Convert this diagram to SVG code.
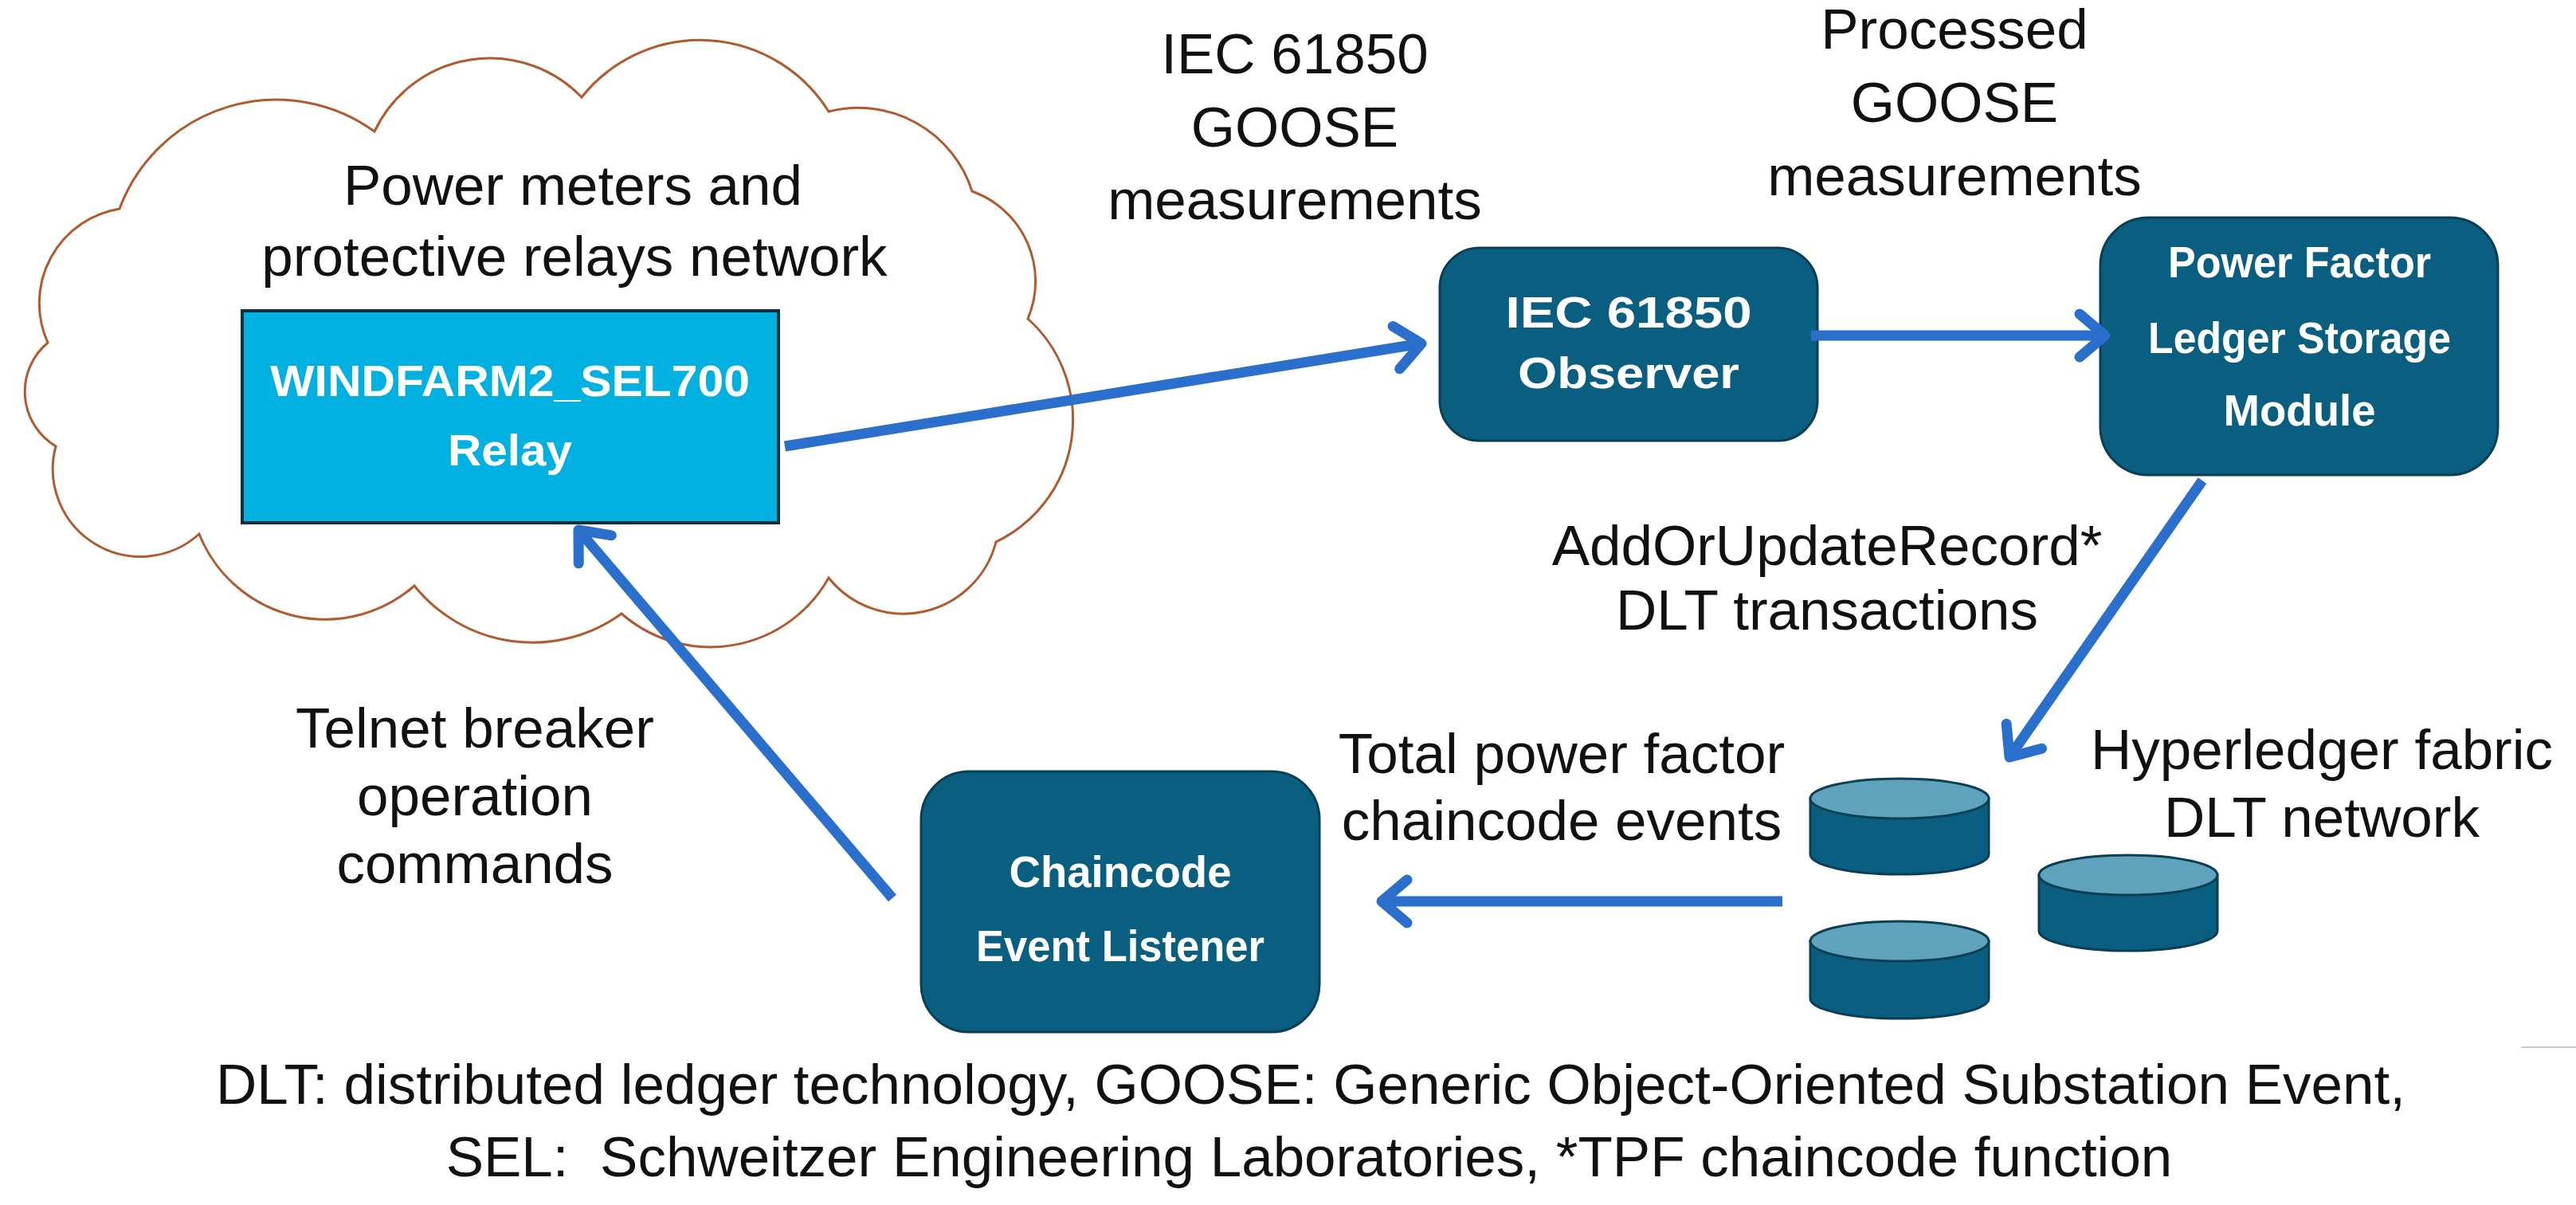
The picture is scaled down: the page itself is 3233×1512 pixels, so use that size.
<svg xmlns="http://www.w3.org/2000/svg" width="3233" height="1512" viewBox="0 0 3233 1512">
<style>
.lbl{font-family:"Liberation Sans",Arial,sans-serif;font-size:71px;fill:#111;text-anchor:middle}
.foot{font-family:"Liberation Sans",Arial,sans-serif;font-size:71px;fill:#111;text-anchor:middle}
.wt{font-family:"Liberation Sans",Arial,sans-serif;font-weight:bold;fill:#fff;text-anchor:middle;font-size:56px}
.box{fill:#0a5f80;stroke:#0b3f55;stroke-width:3}
.cylb{fill:#0a5f80;stroke:#0b3f55;stroke-width:3}
.cylt{fill:#5fa2bb;stroke:#0b3f55;stroke-width:3}
.arr{stroke:#2a6fcc;stroke-width:13;fill:none;marker-end:url(#ah)}
</style>
<defs>
<marker id="ah" markerUnits="userSpaceOnUse" viewBox="-40 -35 50 70" markerWidth="50" markerHeight="70" refX="0" refY="0" orient="auto">
<path d="M-32,-27 L0,0 L-32,27" fill="none" stroke="#2a6fcc" stroke-width="13" stroke-linecap="round" stroke-linejoin="round"/>
</marker>
</defs>
<rect width="3233" height="1512" fill="#fff"/>
<g id="cloud">
<path d="M60,430 A120,120 0 0 1 150,262 A210,210 0 0 1 470,165 A160,160 0 0 1 730,122 A190,190 0 0 1 1040,140 A150,150 0 0 1 1220,240 A120,120 0 0 1 1290,400 A170,170 0 0 1 1250,680 A120,120 0 0 1 1040,725 A170,170 0 0 1 780,770 A190,190 0 0 1 520,735 A170,170 0 0 1 250,670 A110,110 0 0 1 70,560 A80,80 0 0 1 60,430 Z" fill="#fff" stroke="#b05a30" stroke-width="3"/>
<text class="lbl" x="719" y="257" font-size="76">Power meters and</text>
<text class="lbl" x="721" y="346" font-size="76">protective relays network</text>
</g>
<g id="relay">
<rect x="304" y="390" width="673" height="266" fill="#00b0e0" stroke="#0b3040" stroke-width="4"/>
<text class="wt" x="640" y="497" font-size="62" textLength="602" lengthAdjust="spacingAndGlyphs">WINDFARM2_SEL700</text>
<text class="wt" x="640" y="584" font-size="62" textLength="156" lengthAdjust="spacingAndGlyphs">Relay</text>
</g>
<g id="observer">
<rect class="box" x="1807" y="311" width="474" height="242" rx="50"/>
<text class="wt" x="2044" y="411" textLength="309" lengthAdjust="spacingAndGlyphs">IEC 61850</text>
<text class="wt" x="2044" y="487" textLength="278" lengthAdjust="spacingAndGlyphs">Observer</text>
</g>
<g id="pfmodule">
<rect class="box" x="2636" y="273" width="499" height="323" rx="60"/>
<text class="wt" x="2886" y="348" textLength="330" lengthAdjust="spacingAndGlyphs">Power Factor</text>
<text class="wt" x="2886" y="443" textLength="380" lengthAdjust="spacingAndGlyphs">Ledger Storage</text>
<text class="wt" x="2886" y="534" textLength="191" lengthAdjust="spacingAndGlyphs">Module</text>
</g>
<g id="listener">
<rect class="box" x="1156" y="968" width="500" height="327" rx="60"/>
<text class="wt" x="1406" y="1113" textLength="279" lengthAdjust="spacingAndGlyphs">Chaincode</text>
<text class="wt" x="1406" y="1206" textLength="362" lengthAdjust="spacingAndGlyphs">Event Listener</text>
</g>
<g id="dlt">
<path class="cylb" d="M2272,1002 V1072 A112,25 0 0 0 2496,1072 V1002 Z"/>
<ellipse class="cylt" cx="2384" cy="1002" rx="112" ry="25"/>
<path class="cylb" d="M2272,1181 V1253 A112,25 0 0 0 2496,1253 V1181 Z"/>
<ellipse class="cylt" cx="2384" cy="1181" rx="112" ry="25"/>
<path class="cylb" d="M2559,1098 V1168 A112,25 0 0 0 2783,1168 V1098 Z"/>
<ellipse class="cylt" cx="2671" cy="1098" rx="112" ry="25"/>
</g>
<g id="connectors">
<line class="arr" x1="985" y1="560" x2="1784" y2="431"/>
<line class="arr" x1="2273" y1="421" x2="2642" y2="421"/>
<line class="arr" x1="2764" y1="603" x2="2522" y2="950"/>
<line class="arr" x1="2237" y1="1131" x2="1734" y2="1131"/>
<line class="arr" x1="1120" y1="1127" x2="726" y2="665"/>
</g>
<g id="labels">
<text class="lbl" x="1625" y="92">IEC 61850</text>
<text class="lbl" x="1625" y="184">GOOSE</text>
<text class="lbl" x="1625" y="275">measurements</text>
<text class="lbl" x="2453" y="61">Processed</text>
<text class="lbl" x="2453" y="153">GOOSE</text>
<text class="lbl" x="2453" y="245">measurements</text>
<text class="lbl" x="2293" y="709">AddOrUpdateRecord*</text>
<text class="lbl" x="2293" y="790">DLT transactions</text>
<text class="lbl" x="1960" y="970">Total power factor</text>
<text class="lbl" x="1960" y="1054">chaincode events</text>
<text class="lbl" x="2914" y="965">Hyperledger fabric</text>
<text class="lbl" x="2914" y="1050">DLT network</text>
<text class="lbl" x="596" y="938">Telnet breaker</text>
<text class="lbl" x="596" y="1023">operation</text>
<text class="lbl" x="596" y="1108">commands</text>
<text class="foot" x="1645" y="1385">DLT: distributed ledger technology, GOOSE: Generic Object-Oriented Substation Event,</text>
<text class="foot" x="1643" y="1476" xml:space="preserve">SEL:  Schweitzer Engineering Laboratories, *TPF chaincode function</text>
</g>
<line x1="3164" y1="1314" x2="3233" y2="1314" stroke="#ccc" stroke-width="2"/>
</svg>
